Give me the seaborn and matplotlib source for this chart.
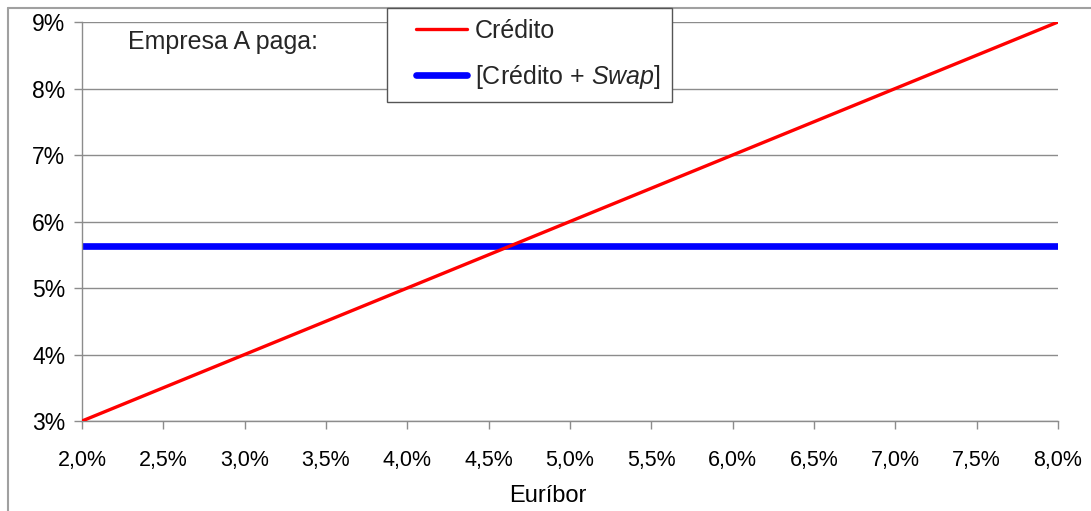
import matplotlib
matplotlib.use("Agg")
import matplotlib.pyplot as plt
from matplotlib.lines import Line2D
from matplotlib.legend_handler import HandlerLine2D
from matplotlib.ticker import FixedLocator, FixedFormatter
import seaborn as sns
import pandas as pd

# Euríbor levels (%) and the rate company A pays in each case
euribor = [2.0, 2.5, 3.0, 3.5, 4.0, 4.5, 5.0, 5.5, 6.0, 6.5, 7.0, 7.5, 8.0]
credito = [3.0, 3.5, 4.0, 4.5, 5.0, 5.5, 6.0, 6.5, 7.0, 7.5, 8.0, 8.5, 9.0]
credito_swap = [5.63, 5.63, 5.63, 5.63, 5.63, 5.63, 5.63, 5.63, 5.63, 5.63, 5.63, 5.63, 5.63]

x_ticks = [2.0, 2.5, 3.0, 3.5, 4.0, 4.5, 5.0, 5.5, 6.0, 6.5, 7.0, 7.5, 8.0]
x_tick_labels = ["2,0%", "2,5%", "3,0%", "3,5%", "4,0%", "4,5%", "5,0%",
                 "5,5%", "6,0%", "6,5%", "7,0%", "7,5%", "8,0%"]
y_ticks = [3, 4, 5, 6, 7, 8, 9]
y_tick_labels = ["3%", "4%", "5%", "6%", "7%", "8%", "9%"]

label_credito = "Crédito"
label_swap = r"[Crédito + $\mathit{Swap}$]"

sns.set_style("white")
plt.rcParams["font.family"] = ["Liberation Sans", "DejaVu Sans"]
plt.rcParams["mathtext.fontset"] = "custom"
plt.rcParams["mathtext.rm"] = "Liberation Sans"
plt.rcParams["mathtext.it"] = "Liberation Sans:italic"


class IndentedLineHandler(HandlerLine2D):
    """Legend line sample with extra blank space on its left."""

    def __init__(self, gap, **kw):
        super().__init__(**kw)
        self.gap = gap

    def create_artists(self, legend, orig_handle, xdescent, ydescent,
                       width, height, fontsize, trans):
        return super().create_artists(legend, orig_handle, xdescent - self.gap,
                                      ydescent, width - self.gap, height,
                                      fontsize, trans)


df = pd.DataFrame({"euribor": euribor, "credito": credito, "swap": credito_swap})

fig = plt.figure(figsize=(10.91, 5.11), dpi=100)
ax = fig.add_axes([82 / 1091, 1 - 421 / 511, (1058 - 82) / 1091, (421 - 22) / 511])

grid_col = "#8c8c8c"
ax.set_axisbelow(True)
for y in y_ticks:
    ax.axhline(y, color=grid_col, lw=1.0, zorder=0)

sns.lineplot(data=df, x="euribor", y="credito", ax=ax, color="#ff0000", lw=2.4,
             zorder=3, legend=False)
sns.lineplot(data=df, x="euribor", y="swap", ax=ax, color="#0000ff", lw=4.8,
             zorder=2, legend=False)

ax.set_xlim(2.0, 8.0)
ax.set_ylim(3, 9)
ax.xaxis.set_major_locator(FixedLocator(x_ticks))
ax.xaxis.set_major_formatter(FixedFormatter(x_tick_labels))
ax.yaxis.set_major_locator(FixedLocator(y_ticks))
ax.yaxis.set_major_formatter(FixedFormatter(y_tick_labels))

for side in ["top", "right"]:
    ax.spines[side].set_visible(False)
for side in ["left", "bottom"]:
    ax.spines[side].set_color(grid_col)
    ax.spines[side].set_linewidth(1.0)

ax.tick_params(axis="both", which="both", direction="out", length=6,
               width=1.0, color=grid_col, labelcolor="black")
ax.tick_params(axis="x", pad=15, bottom=True, labelsize=15.5)
ax.tick_params(axis="y", pad=6, left=True, labelsize=16.5)

ax.set_xlabel("Euríbor", fontsize=17, color="black")
ax.set_ylabel("")
ax.xaxis.set_label_coords((548 - 82) / 976, -0.16)

fig.text(128 / 1091, 1 - 49 / 511, "Empresa A paga:", fontsize=18,
         ha="left", va="baseline")

h_credito = Line2D([], [], color="#ff0000", lw=2.4)
h_swap = Line2D([], [], color="#0000ff", lw=4.8)
handler = IndentedLineHandler(gap=13)
leg = fig.legend([h_credito, h_swap], [label_credito, label_swap], loc="upper left",
                 bbox_to_anchor=(387 / 1091, 1 - 8 / 511), fontsize=18,
                 frameon=True, fancybox=False, framealpha=1, edgecolor="#555555",
                 handlelength=2.76, handletextpad=0.32, labelspacing=0.8,
                 borderpad=0.45, borderaxespad=0,
                 handler_map={h_credito: handler, h_swap: handler})
leg.get_frame().set_linewidth(1.0)

# outer chart frame
fig.add_artist(Line2D([8 / 1091, 8 / 1091], [0, 1 - 8 / 511], color="#a0a0a0",
                      lw=1.5, transform=fig.transFigure))
fig.add_artist(Line2D([8 / 1091, 1], [1 - 8 / 511, 1 - 8 / 511], color="#a0a0a0",
                      lw=1.5, transform=fig.transFigure))

fig.savefig("out.png", dpi=100)
